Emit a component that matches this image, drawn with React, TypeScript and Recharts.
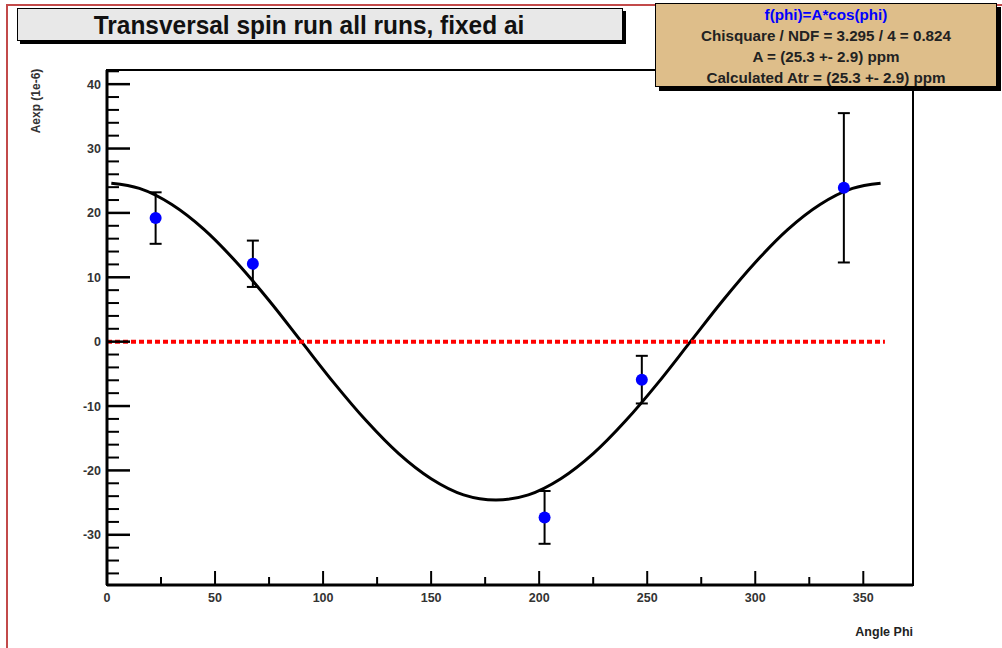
import {
  ComposedChart,
  ErrorBar,
  Label,
  Line,
  ReferenceArea,
  Scatter,
  XAxis,
  YAxis,
} from 'recharts';

// measured points
const phiPoints = [22.5, 67.5, 202.5, 247.5, 341];
const aexpValues = [19.2, 12.1, -27.3, -5.9, 23.9];
const aexpErrors = [4.0, 3.6, 4.1, 3.7, 11.6];

// fitted curve
const fitPhi = [2, 15, 30, 45, 60, 75, 90, 105, 120, 135, 150, 165, 180, 195, 210, 225, 240, 255, 270, 285, 300, 315, 330, 345, 358];
const fitValues = [24.6, 23.8, 21.3, 17.4, 12.3, 6.4, 0, -6.4, -12.3, -17.4, -21.3, -23.8, -24.6, -23.8, -21.3, -17.4, -12.3, -6.4, 0, 6.4, 12.3, 17.4, 21.3, 23.8, 24.6];

// zero reference
const zeroPhi = [0, 360];
const zeroValues = [0, 0];

const xTicks = [0, 25, 50, 75, 100, 125, 150, 175, 200, 225, 250, 275, 300, 325, 350];
const yTicks = [-36, -34, -32, -30, -28, -26, -24, -22, -20, -18, -16, -14, -12, -10, -8, -6, -4, -2, 0, 2, 4, 6, 8, 10, 12, 14, 16, 18, 20, 22, 24, 26, 28, 30, 32, 34, 36, 38, 40, 42];

const points = phiPoints.map((x, i) => ({ x, y: aexpValues[i], err: aexpErrors[i] }));
const fit = fitPhi.map((x, i) => ({ x, y: fitValues[i] }));
const zero = zeroPhi.map((x, i) => ({ x, y: zeroValues[i] }));

const font = '"Liberation Sans", Arial, Helvetica, sans-serif';

function YTick({ x, y, payload }: any) {
  const major = payload.value % 10 === 0;
  const ax = x + 5;
  return <g>
    <line x1={ax} x2={ax + (major ? 23 : 12)} y1={y} y2={y} stroke="#000" strokeWidth={major ? 2.5 : 2} />
    {major && <text x={x - 1} y={y} dy={4.5} textAnchor="end" fontSize={12.5} fontWeight="bold" fill="#333" fontFamily={font}>{payload.value}</text>}
  </g>;
}

function XTick({ x, y, payload }: any) {
  const major = payload.value % 50 === 0;
  const ay = y - 5;
  return <g>
    <line x1={x} x2={x} y1={ay} y2={ay - (major ? 14 : 8)} stroke="#000" strokeWidth={2} />
    {major && <text x={x} y={ay + 17} textAnchor="middle" fontSize={12.5} fontWeight="bold" fill="#333" fontFamily={font}>{payload.value}</text>}
  </g>;
}

export default function App() {
  return <div style={{ position: 'absolute', left: 0, top: 0, width: 1002, height: 648, background: '#fff', fontFamily: font }}>
    <div style={{ position: 'absolute', left: 6, top: 4, width: 1000, height: 650, borderLeft: '2px solid #c24a4a', borderTop: '2px solid #c24a4a' }} />

    <ComposedChart width={1002} height={648} margin={{ top: 70, right: 89, bottom: 12, left: 0 }} style={{ position: 'absolute', left: 0, top: 0 }}>
      <XAxis type="number" dataKey="x" domain={[0, 373]} allowDataOverflow ticks={xTicks} interval={0}
        height={51} tickSize={0} tickMargin={5} tick={<XTick />} axisLine={{ stroke: '#000', strokeWidth: 3 }}>
        <Label value="Angle Phi" position="insideBottomRight" offset={0} fontSize={12.5} fontWeight="bold" fill="#222" fontFamily={font} />
      </XAxis>
      <YAxis type="number" dataKey="y" domain={[-37.8, 42.2]} allowDataOverflow ticks={yTicks} interval={0}
        width={107} tickSize={0} tickMargin={5} tick={<YTick />} axisLine={{ stroke: '#000', strokeWidth: 3 }}>
        <Label content={({ viewBox }: any) =>
          <text transform={`translate(${viewBox.x + 40}, ${viewBox.y + 31}) rotate(-90)`} textAnchor="middle" fontSize={12} fontWeight="bold" fill="#333" fontFamily={font}>Aexp (1e-6)</text>} />
      </YAxis>
      <ReferenceArea x1={0} x2={373} y1={-37.8} y2={42.2} fill="none" stroke="#000" strokeWidth={2} />
      <Line data={fit} dataKey="y" type="monotone" stroke="#000" strokeWidth={3} dot={false} isAnimationActive={false} />
      <Line data={zero} dataKey="y" type="linear" stroke="#ff0000" strokeWidth={4} strokeDasharray="5 3" dot={false} isAnimationActive={false} />
      <Scatter data={points} dataKey="y" isAnimationActive={false}
        shape={(p: any) => <circle cx={p.cx} cy={p.cy} r={6} fill="#0000ff" />}>
        <ErrorBar dataKey="err" direction="y" width={6} stroke="#000" strokeWidth={2} />
      </Scatter>
    </ComposedChart>

    <div style={{ position: 'absolute', left: 17, top: 8, width: 606, height: 33, background: '#e8e8e8', border: '1px solid #000', boxShadow: '3px 3px 0 #000', textAlign: 'center', lineHeight: '33px', fontSize: 26, fontWeight: 'bold', color: '#111', paddingRight: 22, boxSizing: 'border-box' }}>
      <span style={{ display: 'inline-block', transform: 'scaleX(0.94)' }}>Transversal spin run all runs, fixed ai</span>
    </div>

    <div style={{ position: 'absolute', left: 655, top: 3, width: 342, height: 84, background: '#debe8a', border: '1px solid #000', boxShadow: '4px 4px 0 #000', textAlign: 'center', fontSize: 15.2, fontWeight: 'bold', lineHeight: '21px', color: '#222', boxSizing: 'border-box' }}>
      <div style={{ color: '#0000ff' }}>f(phi)=A*cos(phi)</div>
      <div>Chisquare / NDF = 3.295 / 4 = 0.824</div>
      <div>A = (25.3 +- 2.9) ppm</div>
      <div>Calculated Atr = (25.3 +- 2.9) ppm</div>
    </div>
  </div>;
}
